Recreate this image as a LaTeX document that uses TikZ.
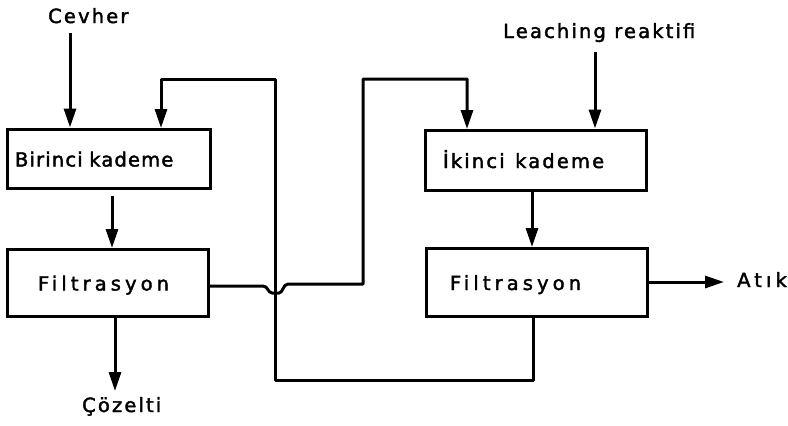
\documentclass[tikz,border=0pt]{standalone}
\usepackage{fontspec}
\usetikzlibrary{arrows.meta}
\newfontfamily\lsA[LetterSpace=6,FakeBold=2]{DejaVu Sans}
\newfontfamily\lsB[LetterSpace=11,FakeBold=2]{DejaVu Sans}
\newfontfamily\lsC[LetterSpace=21,FakeBold=2]{DejaVu Sans}
\begin{document}
\begin{tikzpicture}[x=1pt,y=-1pt,
  ln/.style={line width=3pt, line join=round},
  arr/.style={ln, -{Triangle[length=19pt,width=12pt]}},
  box/.style={draw, line width=3pt, rectangle, align=left, text height=16pt, text depth=0pt,
    inner ysep=0pt, font=\fontsize{19.5}{22}\selectfont},
  lbl/.style={inner sep=0pt, font=\fontsize{19.5}{22}\selectfont}]
\useasboundingbox (0,0) rectangle (788,426);
% boxes
\node[box, minimum height=59pt, inner xsep=8pt, text width=187pt] (b1) at (108.5,158.5) {\lsA Birinci kademe};
\node[box, minimum height=67pt, inner xsep=31pt, text width=139pt] (f1) at (107.5,282.5) {\lsC Filtrasyon};
\node[box, minimum height=60pt, inner xsep=18pt, text width=185pt] (i1) at (535.5,160) {\lsB İkinci\hspace{4pt} kademe};
\node[box, minimum height=68pt, inner xsep=24pt, text width=173pt] (f2) at (536.5,282) {\lsC Filtrasyon};
% labels
\node[lbl, anchor=base west] (cev) at (48,23) {\lsB Cevher};
\node[lbl, anchor=base west] (lea) at (503,38) {\lsB Leaching reaktifi};
\node[lbl, anchor=base west] (atk) at (737,287) {\lsC Atık};
\node[lbl, anchor=base west] (coz) at (82,412) {\lsB Çözelti};
% coordinates
\coordinate (cevA) at (70,33);
\coordinate (leaA) at (595,52);
\coordinate (b1o) at (112,196);
\coordinate (f1i) at (112,248);
\coordinate (i1o) at (532,190);
\coordinate (f2i) at (532,247);
\coordinate (f1b) at (115,316);
\coordinate (cozA) at (115,391);
\coordinate (f2e) at (647,282);
\coordinate (atkA) at (724,282);
\coordinate (f1e) at (208,286);
\coordinate (f2b) at (533,316);
% connectors
\draw[arr] (cevA) -- (cevA |- b1.north);
\draw[arr] (leaA) -- (leaA |- i1.north);
\draw[arr] (b1o) -- (f1i);
\draw[arr] (i1o) -- (f2i);
\draw[arr] (f1b) -- (cozA);
\draw[arr] (f2e) -- (atkA);
\draw[arr] (f2b) -- (533,380) -- (275,380) -- (275,79) -- (161,79) -- (161,128);
\draw[arr] (f1e) -- (263,286) .. controls (268,286) and (268,293) .. (272,293) -- (279,293)
  .. controls (283,293) and (283,284) .. (288,284) -- (363,284) -- (363,79) -- (467,79) -- (467,129);
\end{tikzpicture}
\end{document}
